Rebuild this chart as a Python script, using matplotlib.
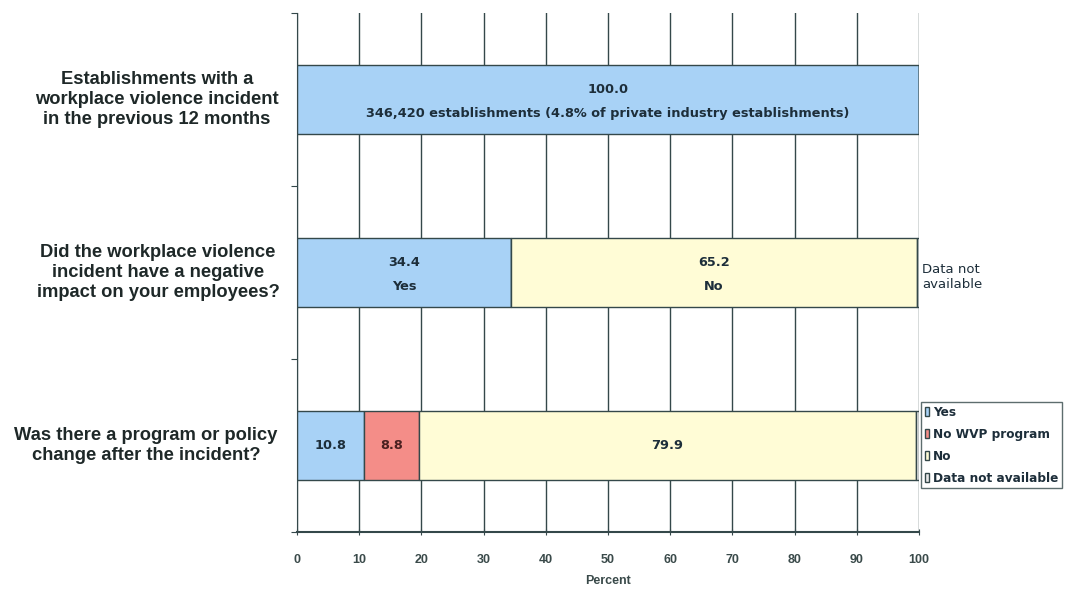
import numpy as np
import matplotlib.pyplot as plt
from matplotlib.patches import Patch

# ======= Dados =======
questions = ['Establishments with a\nworkplace violence incident\nin the previous 12 months',
             'Did the workplace violence\nincident have a negative\nimpact on your employees?',
             'Was there a program or policy\nchange after the incident?']
yes_vals = [100.0, 34.4, 10.8]
nowvp_vals = [0.0, 0.0, 8.8]
no_vals = [0.0, 65.2, 79.9]
na_vals = [0.0, 0.4, 0.5]

bar_notes = ['346,420 establishments (4.8% of private industry establishments)', 'Yes', '']
no_notes = ['', 'No', '']
legend_labels = ['Yes', 'No WVP program', 'No', 'Data not available']
xticks = [0, 10, 20, 30, 40, 50, 60, 70, 80, 90, 100]

c_yes = '#a8d2f6'
c_nowvp = '#f48d88'
c_no = '#fffcd6'
c_na = '#e8e8e8'
edge = '#34484a'
txt = '#1d2e3a'
bfont = ['DejaVu Sans']  # fonte mais larga, parecida com Tahoma

plt.rcParams['font.family'] = ['Liberation Sans', 'DejaVu Sans']

fig = plt.figure(figsize=(10.71, 5.9), dpi=100)
ax = fig.add_axes([297/1071, 1 - 532/590, (919-297)/1071, (532-13)/590])

ypos = np.array([2.5, 1.5, 0.5])
h = 0.395

yes = np.array(yes_vals)
nowvp = np.array(nowvp_vals)
no = np.array(no_vals)
na = np.array(na_vals)

# grade vertical atras das barras
for x in xticks:
    ax.axvline(x, color=edge, lw=1.0, zorder=0)

ax.barh(ypos, yes, height=h, color=c_yes, edgecolor=edge, lw=1.0, zorder=2)
ax.barh(ypos, nowvp, left=yes, height=h, color=c_nowvp, edgecolor=edge, lw=1.0, zorder=2)
ax.barh(ypos, no, left=yes + nowvp, height=h, color=c_no, edgecolor=edge, lw=1.0, zorder=2)
ax.barh(ypos, na, left=yes + nowvp + no, height=h, color=c_na, edgecolor=edge, lw=1.0, zorder=2)

kw = dict(ha='center', va='center', fontsize=9.3, fontweight='bold', family=bfont, zorder=3)

# rotulos dentro das barras
for i, y in enumerate(ypos):
    if yes[i] > 0:
        if bar_notes[i]:
            ax.text(yes[i]/2, y + 0.055, f'{yes[i]:.1f}', color=txt, **kw)
            ax.text(yes[i]/2, y - 0.08, bar_notes[i], color=txt, **kw)
        else:
            ax.text(yes[i]/2, y, f'{yes[i]:.1f}', color=txt, **kw)
    if nowvp[i] > 0:
        ax.text(yes[i] + nowvp[i]/2, y, f'{nowvp[i]:.1f}', color='#4a2020', **kw)
    if no[i] > 0:
        cx = yes[i] + nowvp[i] + no[i]/2
        if no_notes[i]:
            ax.text(cx, y + 0.055, f'{no[i]:.1f}', color=txt, **kw)
            ax.text(cx, y - 0.08, no_notes[i], color=txt, **kw)
        else:
            ax.text(cx, y, f'{no[i]:.1f}', color=txt, **kw)

ax.text(100.5, ypos[1] - 0.025, 'Data not\navailable', ha='left', va='center', fontsize=9.5,
        family=bfont, color=txt, linespacing=1.25, clip_on=False)

ax.set_xlim(0, 100)
ax.set_ylim(0, 3)
ax.set_xticks(xticks)
ax.set_xticklabels([str(t) for t in xticks], fontsize=9, fontweight='bold', color='#3a4a4a')
ax.set_yticks([0, 1, 2, 3])
ax.set_yticklabels([])
ax.tick_params(axis='y', length=4, color=edge, direction='out')
ax.tick_params(axis='x', length=4, color=edge, pad=14, direction='inout')
ax.set_xlabel('Percent', fontsize=9, fontweight='bold', color='#3a4a4a', labelpad=6)

for s in ['top', 'right']:
    ax.spines[s].set_visible(False)
ax.spines['left'].set_color(edge)
ax.spines['bottom'].set_color(edge)
ax.spines['bottom'].set_linewidth(1.5)

# perguntas na esquerda (centro horizontal em pixels)
q_centers = [157, 158, 146]
for q, y, cx in zip(questions, ypos, q_centers):
    yf = ax.transData.transform((0, y))[1] / 590
    fig.text(cx/1071, yf, q, ha='center', va='center', fontsize=13.2, fontweight='bold',
             color='#1e2828', linespacing=1.2)

handles = [Patch(facecolor=c, edgecolor=edge, lw=1.0) for c in [c_yes, c_nowvp, c_no, c_na]]
leg = fig.legend(handles, legend_labels, loc='upper left', bbox_to_anchor=(921/1071, 1 - 402/590),
                 prop={'family': bfont, 'size': 8.7, 'weight': 'bold'}, frameon=True, fancybox=False,
                 edgecolor=edge, handlelength=0.4, handleheight=0.8, handletextpad=0.3,
                 borderpad=0.3, labelspacing=0.75, borderaxespad=0)
for t in leg.get_texts():
    t.set_color(txt)
leg.get_frame().set_linewidth(1.0)

plt.savefig('out.png', dpi=100)
